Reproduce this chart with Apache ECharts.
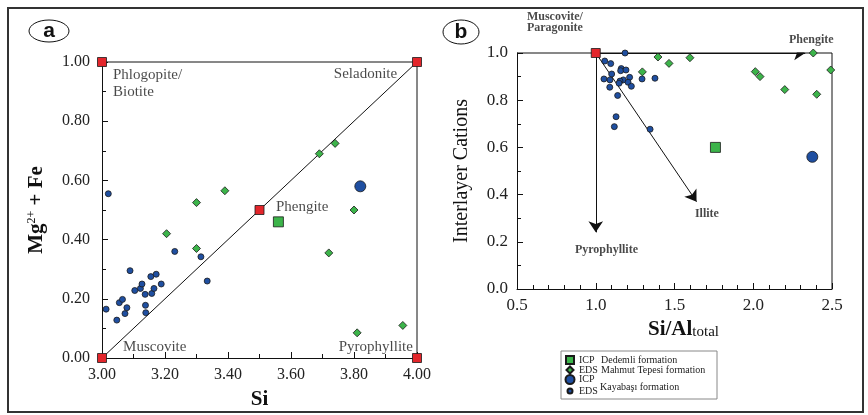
<!DOCTYPE html>
<html>
<head>
<meta charset="utf-8">
<title>Mica classification</title>
<script src="https://cdn.jsdelivr.net/npm/echarts@6/dist/echarts.min.js"></script>
<style>
	html, body { margin: 0; padding: 0; background: #fff; }
	#chart { width: 868px; height: 415px; }
</style>
</head>
<body>
<div id="chart"></div>
<script>
// ---- panel a: Si vs Mg2+ + Fe ----
var aEndMembers = [[3, 0], [3, 1], [4, 1], [4, 0], [3.5, 0.5]];
var aBoxLine = [[3, 1], [4, 1], [4, 0]];
var aDiagonal = [[3, 0], [4, 1]];
var aIcpDedemli = [[3.56, 0.46]];
var aIcpKayabasi = [[3.82, 0.58]];
var aEdsMahmut = [[3.69, 0.69], [3.74, 0.725], [3.39, 0.565], [3.30, 0.525], [3.205, 0.42],
	[3.30, 0.37], [3.80, 0.50], [3.72, 0.355], [3.81, 0.085], [3.955, 0.11]];
var aEdsKayabasi = [[3.02, 0.555], [3.013, 0.165], [3.047, 0.128], [3.055, 0.187], [3.065, 0.198],
	[3.073, 0.15], [3.079, 0.17], [3.089, 0.295], [3.104, 0.228], [3.122, 0.235], [3.127, 0.25],
	[3.137, 0.215], [3.138, 0.178], [3.139, 0.153], [3.155, 0.275], [3.158, 0.218], [3.165, 0.235],
	[3.172, 0.283], [3.188, 0.25], [3.231, 0.36], [3.314, 0.342], [3.334, 0.26]];
var aLabelNames = ['Phlogopite/\nBiotite', 'Seladonite', 'Phengite', 'Muscovite', 'Pyrophyllite'];
var aLabelPoints = [[3.035, 0.985], [3.937, 0.96], [3.552, 0.51], [3.067, 0.037], [3.987, 0.037]];

// ---- panel b: Si/Al total vs interlayer cations ----
var bEndMembers = [[1, 1]];
var bBoxLine = [[0.5, 1], [2.5, 1], [2.5, 0]];
var bArrows = [[[1, 1], [2.33, 1]], [[1, 1], [1, 0.24]], [[1, 1], [1.64, 0.37]]];
var bIcpDedemli = [[1.76, 0.6]];
var bIcpKayabasi = [[2.375, 0.56]];
var bEdsMahmut = [[1.296, 0.92], [1.395, 0.983], [1.465, 0.956], [1.598, 0.98], [2.013, 0.921],
	[2.043, 0.90], [2.20, 0.845], [2.381, 1.0], [2.403, 0.825], [2.492, 0.928]];
var bEdsKayabasi = [[1.186, 1.0], [1.057, 0.966], [1.095, 0.955], [1.101, 0.911], [1.052, 0.89],
	[1.09, 0.886], [1.089, 0.855], [1.139, 0.82], [1.129, 0.73], [1.118, 0.688], [1.162, 0.934],
	[1.158, 0.925], [1.192, 0.928], [1.175, 0.886], [1.154, 0.881], [1.148, 0.872], [1.215, 0.897],
	[1.205, 0.876], [1.226, 0.859], [1.294, 0.89], [1.376, 0.893], [1.345, 0.677]];
var bLabelNames = ['Muscovite/\nParagonite', 'Phengite', 'Illite', 'Pyrophyllite'];
var bLabelPoints = [[0.563, 1.13], [2.51, 1.055], [1.706, 0.318], [1.068, 0.165]];

var SERIF = '"Liberation Serif", "DejaVu Serif", serif';
var RED = '#e3262b', GREEN = '#3cb44a', BLUE = '#1f4fa1', EDGE = '#1a1a1a';

var chart = echarts.init(document.getElementById('chart'), null, { renderer: 'canvas' });

function makeAxis(pGrid, pMin, pMax, pInterval, pMinorSplit, pDecimals, pMargin, pFontSize) {
	return {
		type: 'value', gridIndex: pGrid, min: pMin, max: pMax, interval: pInterval,
		axisLine: { show: true, onZero: false, lineStyle: { color: '#111', width: 1 } },
		axisTick: { show: true, inside: true, length: 6, lineStyle: { color: '#111' } },
		minorTick: { show: true, splitNumber: pMinorSplit, length: 4, lineStyle: { color: '#111' } },
		splitLine: { show: false },
		axisLabel: {
			margin: pMargin, color: '#222', fontFamily: SERIF, fontSize: pFontSize,
			formatter: function (v) { return v.toFixed(pDecimals); }
		}
	};
}

function boxSeries(pIdx, pData) {
	return {
		type: 'line', xAxisIndex: pIdx, yAxisIndex: pIdx, data: pData, showSymbol: false,
		silent: true, z: 1, lineStyle: { color: '#111', width: 1 }, clip: false
	};
}

function markerSeries(pIdx, pName, pData, pSymbol, pSize, pColor) {
	return {
		type: 'scatter', name: pName, xAxisIndex: pIdx, yAxisIndex: pIdx, data: pData,
		symbol: pSymbol, symbolSize: pSize, clip: false, z: 3,
		itemStyle: { color: pColor, borderColor: EDGE, borderWidth: 0.8, opacity: 1 }
	};
}

// text annotations anchored to data coordinates
function labelSeries(pIdx, pNames, pPoints, pLayouts, pTextStyle) {
	return {
		type: 'scatter', xAxisIndex: pIdx, yAxisIndex: pIdx, symbolSize: 1, silent: true, clip: false, z: 4,
		itemStyle: { color: 'transparent' },
		data: pPoints.map(function (p, i) {
			return {
				value: p,
				label: Object.assign({
					show: true, position: 'inside', formatter: pNames[i], color: '#1a1a1a'
				}, pTextStyle, pLayouts[i])
			};
		})
	};
}

var aLabelLayouts = [
	{ align: 'left', verticalAlign: 'top', lineHeight: 17 },
	{ align: 'right', verticalAlign: 'middle' },
	{ align: 'left', verticalAlign: 'middle' },
	{ align: 'left', verticalAlign: 'middle' },
	{ align: 'right', verticalAlign: 'middle' }
];
var bLabelLayouts = [
	{ align: 'left', verticalAlign: 'middle', lineHeight: 11 },
	{ align: 'right', verticalAlign: 'middle' },
	{ align: 'center', verticalAlign: 'middle' },
	{ align: 'center', verticalAlign: 'middle' }
];

function legendRow(pName, pIcon, pSize, pTop, pText) {
	return {
		data: [{ name: pName, icon: pIcon }], left: 565 + (8 - pSize) / 2, top: pTop, padding: 0,
		itemWidth: pSize, itemHeight: pSize, itemGap: 0, selectedMode: false,
		formatter: function () { return pText; },
		textStyle: {
			fontFamily: SERIF, fontSize: 10, color: '#222', padding: [0, 0, 0, (8 - pSize) / 2],
			rich: {
				t: { fontFamily: SERIF, fontSize: 10, color: '#222', width: 22 },
				n: { fontFamily: SERIF, fontSize: 10, color: '#222' }
			}
		}
	};
}

var xA = makeAxis(0, 3, 4, 0.2, 2, 2, 9, 16);
xA.name = 'Si';
xA.nameLocation = 'middle';
xA.nameGap = 31;
xA.nameTextStyle = { fontFamily: SERIF, fontWeight: 'bold', fontSize: 21, color: '#111' };

var yA = makeAxis(0, 0, 1, 0.2, 2, 2, 12, 16);
yA.name = '{m|Mg}{s|2+}{m| + Fe}';
yA.nameLocation = 'middle';
yA.nameGap = 55;
yA.nameTextStyle = {
	color: '#111',
	rich: {
		m: { fontFamily: SERIF, fontWeight: 'bold', fontSize: 21, color: '#111' },
		s: { fontFamily: SERIF, fontSize: 12, color: '#111', verticalAlign: 'top' }
	}
};

var xB = makeAxis(1, 0.5, 2.5, 0.5, 5, 1, 8, 17);
xB.name = '{m|Si/Al}{s|total}';
xB.nameLocation = 'middle';
xB.nameGap = 25;
xB.nameTextStyle = {
	color: '#111', padding: [0, 0, 0, 18],
	rich: {
		m: { fontFamily: SERIF, fontWeight: 'bold', fontSize: 21, color: '#111' },
		s: { fontFamily: SERIF, fontSize: 15, color: '#111', verticalAlign: 'bottom' }
	}
};

var yB = makeAxis(1, 0, 1, 0.2, 2, 1, 9, 17);
yB.name = 'Interlayer Cations';
yB.nameLocation = 'middle';
yB.nameGap = 45;
yB.nameTextStyle = { fontFamily: SERIF, fontSize: 20, color: '#111' };

var option = {
	animation: false,
	backgroundColor: '#fff',
	grid: [
		{ left: 102, top: 62, width: 315, height: 296 },
		{ left: 517, top: 53, width: 315, height: 236 }
	],
	xAxis: [xA, xB],
	yAxis: [yA, yB],
	legend: [
		legendRow('ICP Dedemli formation', 'rect', 8, 355, '{t|ICP}{n|Dedemli formation}'),
		legendRow('EDS Mahmut Tepesi formation', 'diamond', 7, 365, '{t|EDS}{n|Mahmut Tepesi formation}'),
		legendRow('ICP Kayabaşı formation', 'circle', 9, 374, 'ICP'),
		legendRow('EDS Kayabaşı formation', 'circle', 5, 386, 'EDS')
	],
	graphic: [
		{ type: 'rect', shape: { x: 8, y: 8, width: 855, height: 404 }, style: { fill: 'none', stroke: '#333', lineWidth: 2 }, silent: true },
		{ type: 'ellipse', shape: { cx: 49, cy: 31, rx: 20, ry: 11 }, style: { fill: 'none', stroke: '#111', lineWidth: 1 } },
		{ type: 'text', x: 49, y: 31, style: { text: 'a', font: 'bold 21px Arial, "Liberation Sans", sans-serif', fill: '#111', align: 'center', verticalAlign: 'middle' } },
		{ type: 'ellipse', shape: { cx: 461, cy: 32, rx: 18, ry: 12 }, style: { fill: 'none', stroke: '#111', lineWidth: 1 } },
		{ type: 'text', x: 461, y: 32, style: { text: 'b', font: 'bold 21px Arial, "Liberation Sans", sans-serif', fill: '#111', align: 'center', verticalAlign: 'middle' } },
		{ type: 'rect', shape: { x: 561, y: 351, width: 156, height: 48 }, style: { fill: 'none', stroke: '#888', lineWidth: 1 }, silent: true },
		{ type: 'text', x: 600, y: 387, style: { text: 'Kayabaşı formation', font: '10px ' + SERIF, fill: '#222', verticalAlign: 'middle' } }
	],
	series: [
		// panel a
		boxSeries(0, aBoxLine),
		boxSeries(0, aDiagonal),
		markerSeries(0, 'endmember', aEndMembers, 'rect', 9, RED),
		markerSeries(0, 'EDS Kayabaşı formation', aEdsKayabasi, 'circle', 6, BLUE),
		markerSeries(0, 'EDS Mahmut Tepesi formation', aEdsMahmut, 'diamond', 8, GREEN),
		markerSeries(0, 'ICP Dedemli formation', aIcpDedemli, 'rect', 10, GREEN),
		markerSeries(0, 'ICP Kayabaşı formation', aIcpKayabasi, 'circle', 11, BLUE),
		labelSeries(0, aLabelNames, aLabelPoints, aLabelLayouts, { fontFamily: SERIF, fontSize: 15 }),
		// panel b
		boxSeries(1, bBoxLine),
		{
			type: 'lines', coordinateSystem: 'cartesian2d', xAxisIndex: 1, yAxisIndex: 1, silent: true, z: 2,
			symbol: ['none', 'arrow'], symbolSize: 11,
			lineStyle: { color: '#111', width: 1, opacity: 1 },
			data: bArrows.map(function (c) { return { coords: c }; })
		},
		markerSeries(1, 'endmember', bEndMembers, 'rect', 9, RED),
		markerSeries(1, 'EDS Kayabaşı formation', bEdsKayabasi, 'circle', 6, BLUE),
		markerSeries(1, 'EDS Mahmut Tepesi formation', bEdsMahmut, 'diamond', 8, GREEN),
		markerSeries(1, 'ICP Dedemli formation', bIcpDedemli, 'rect', 10, GREEN),
		markerSeries(1, 'ICP Kayabaşı formation', bIcpKayabasi, 'circle', 11, BLUE),
		labelSeries(1, bLabelNames, bLabelPoints, bLabelLayouts, { fontFamily: SERIF, fontSize: 12, fontWeight: 'bold' })
	]
};

chart.setOption(option);
</script>
</body>
</html>
